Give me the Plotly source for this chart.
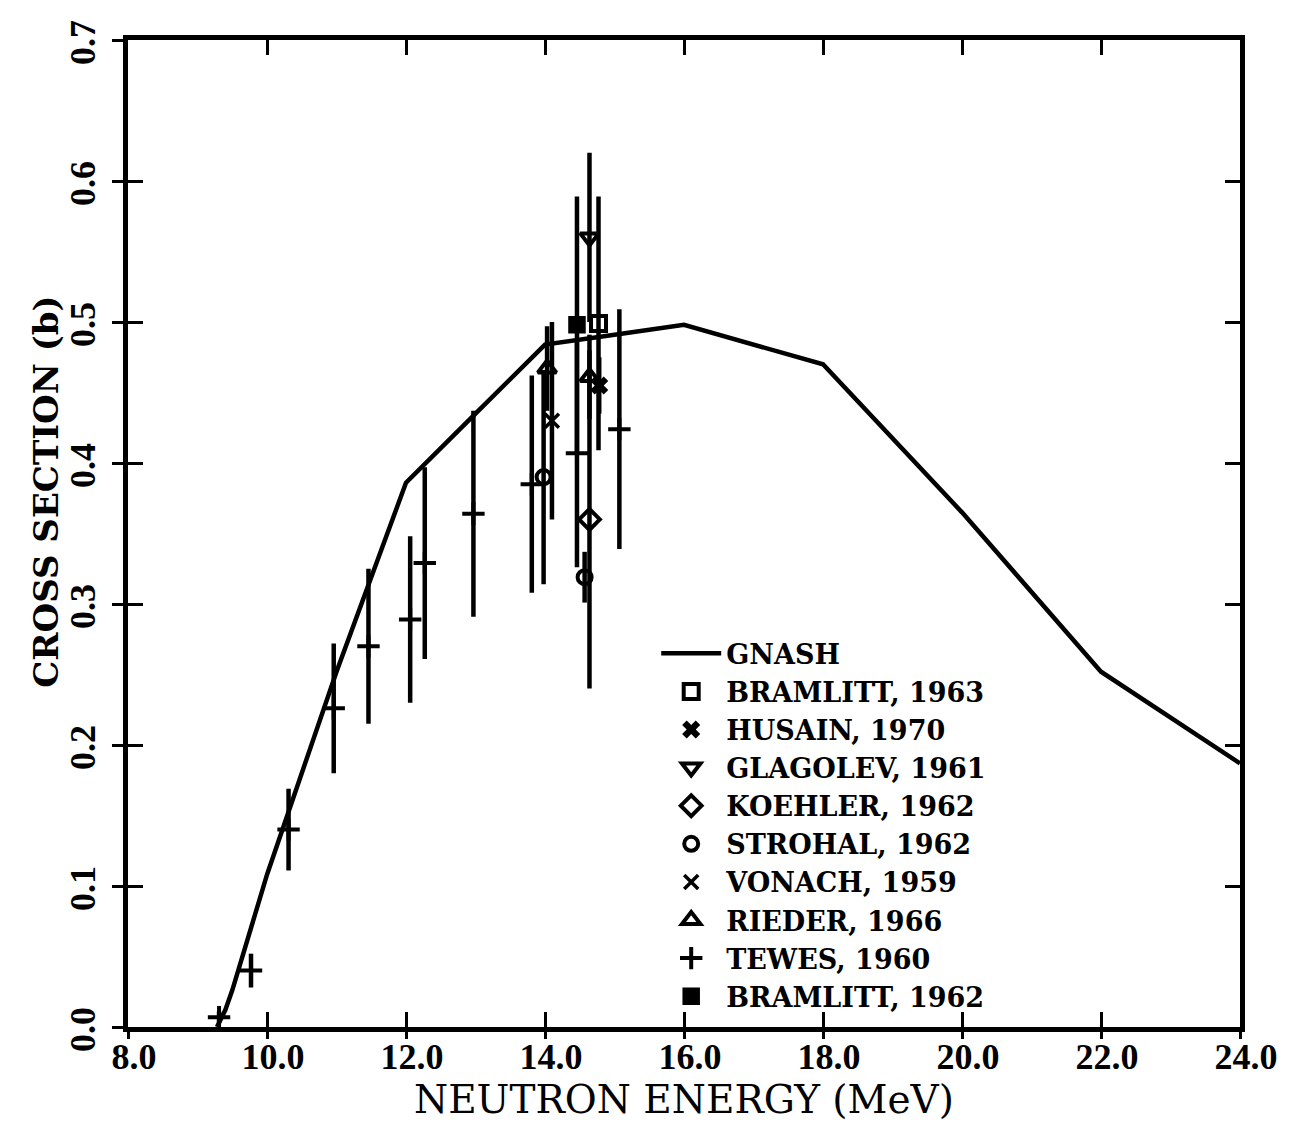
import plotly.graph_objects as go

# ---------------- data ----------------
gnash_x = [9.28, 9.4, 9.5, 10.0, 11.0, 12.0, 13.0, 14.0, 15.0, 16.0, 18.0, 20.0, 22.0, 24.0]
gnash_y = [0.0, 0.012, 0.026, 0.108, 0.252, 0.386, 0.435, 0.484, 0.491, 0.498, 0.470, 0.365, 0.252, 0.187]

bram63_x = [14.77]
bram63_y = [0.499]
bram63_e = [0.090]

husain_x = [14.78]
husain_y = [0.455]
husain_e = [0.020]

glag_x = [14.64]
glag_y = [0.560]
glag_e = [0.060]

koehler_x = [14.64]
koehler_y = [0.360]
koehler_e = [0.120]

strohal_x = [13.98, 14.57]
strohal_y = [0.390, 0.319]
strohal_e = [0.076, 0.018]

vonach_x = [14.10]
vonach_y = [0.430]
vonach_e = [0.070]

rieder_x = [14.03, 14.64]
rieder_y = [0.467, 0.461]
rieder_e = [0.030, 0.030]

tewes_x = [9.31, 9.77, 10.31, 10.96, 11.46, 12.06, 12.27, 12.97, 13.81, 14.46, 15.07]
tewes_y = [0.007, 0.040, 0.140, 0.226, 0.270, 0.289, 0.329, 0.364, 0.385, 0.407, 0.424]
tewes_e = [0.004, 0.012, 0.029, 0.046, 0.055, 0.059, 0.068, 0.073, 0.077, 0.081, 0.085]

bram62_x = [14.46]
bram62_y = [0.498]
bram62_e = [0.091]

x_ticks = [8, 10, 12, 14, 16, 18, 20, 22, 24]
x_ticklabels = ["8.0", "10.0", "12.0", "14.0", "16.0", "18.0", "20.0", "22.0", "24.0"]
y_ticks = [0.0, 0.1, 0.2, 0.3, 0.4, 0.5, 0.6, 0.7]
y_ticklabels = ["0.0", "0.1", "0.2", "0.3", "0.4", "0.5", "0.6", "0.7"]

# ---------------- figure ----------------
BLACK = "black"
fig = go.Figure()

fig.add_trace(go.Scatter(x=gnash_x, y=gnash_y, mode="lines", name="GNASH",
                         line=dict(color=BLACK, width=4.5)))


def pts(name, xs, ys, es, symbol, size, lw=3.5):
    fig.add_trace(go.Scatter(
        x=xs, y=ys, mode="markers", name=name,
        marker=dict(symbol=symbol, size=size, color=BLACK,
                    line=dict(color=BLACK, width=lw)),
        error_y=dict(type="data", array=es, visible=True,
                     color=BLACK, thickness=4.5, width=0),
    ))


pts("BRAMLITT, 1963", bram63_x, bram63_y, bram63_e, "square-open", 15, 4)
pts("HUSAIN, 1970", husain_x, husain_y, husain_e, "x", 16, 0)
pts("GLAGOLEV, 1961", glag_x, glag_y, glag_e, "triangle-down-open", 16, 4)
pts("KOEHLER, 1962", koehler_x, koehler_y, koehler_e, "diamond-open", 16, 4)
pts("STROHAL, 1962", strohal_x, strohal_y, strohal_e, "circle-open", 14, 4)
pts("VONACH, 1959", vonach_x, vonach_y, vonach_e, "x-thin-open", 14, 3.5)
pts("RIEDER, 1966", rieder_x, rieder_y, rieder_e, "triangle-up-open", 16, 4)
pts("TEWES, 1960", tewes_x, tewes_y, tewes_e, "cross-thin-open", 16, 4)
pts("BRAMLITT, 1962", bram62_x, bram62_y, bram62_e, "square-x", 15, 2.5)

# helper overlay axes for the outward part of the crossing ticks
fig.add_trace(go.Scatter(x=gnash_x, y=gnash_y, mode="lines", xaxis="x2", yaxis="y2",
                         line=dict(color="rgba(0,0,0,0)", width=0),
                         showlegend=False, hoverinfo="skip"))

tick_font = dict(family="Liberation Serif", size=36, color=BLACK, weight="bold")

fig.update_layout(
    width=1290, height=1140,
    margin=dict(l=128, r=42, t=40, b=113),
    paper_bgcolor="white", plot_bgcolor="white",
    showlegend=True,
    legend=dict(
        x=0.475, y=0.403, xanchor="left", yanchor="top",
        bgcolor="rgba(0,0,0,0)",
        font=dict(family="DejaVu Serif", size=27, color=BLACK, weight="bold"),
        itemwidth=60, tracegroupgap=0,
    ),
    xaxis=dict(
        range=[8, 24], tickvals=x_ticks, ticktext=x_ticklabels,
        showticklabels=False,
        ticks="inside", ticklen=15, tickwidth=3, tickcolor=BLACK,
        showline=True, linewidth=5, linecolor=BLACK, mirror="ticks",
        showgrid=False, zeroline=False,
    ),
    yaxis=dict(
        range=[0, 0.7], tickvals=y_ticks, ticktext=y_ticklabels,
        showticklabels=False,
        ticks="inside", ticklen=15, tickwidth=3, tickcolor=BLACK,
        showline=True, linewidth=5, linecolor=BLACK, mirror="ticks",
        showgrid=False, zeroline=False,
    ),
    xaxis2=dict(
        overlaying="x", matches="x", anchor="y2", side="bottom",
        range=[8, 24], tickvals=x_ticks, ticktext=x_ticklabels,
        ticks="outside", ticklen=11, tickwidth=3, tickcolor=BLACK,
        tickfont=tick_font, ticklabelshift=6, ticklabelstandoff=-13,
        showline=False, showgrid=False, zeroline=False,
        title=dict(text="NEUTRON ENERGY (MeV)",
                   font=dict(family="DejaVu Serif", size=39, color=BLACK),
                   standoff=4),
    ),
    yaxis2=dict(
        overlaying="y", matches="y", anchor="x2", side="left",
        range=[0, 0.7], tickvals=y_ticks, ticktext=y_ticklabels,
        ticks="outside", ticklen=15, tickwidth=3, tickcolor=BLACK,
        tickfont=tick_font, tickangle=-90, ticklabelshift=8, ticklabelstandoff=3,
        showline=False, showgrid=False, zeroline=False,
    ),
    annotations=[dict(
        text="CROSS SECTION (b)", xref="paper", yref="paper",
        x=-0.074, y=0.542, xanchor="center", yanchor="middle",
        textangle=-90, showarrow=False,
        font=dict(family="DejaVu Serif", size=34, color=BLACK, weight="bold"),
    )],
)

fig.write_html("out.html")
